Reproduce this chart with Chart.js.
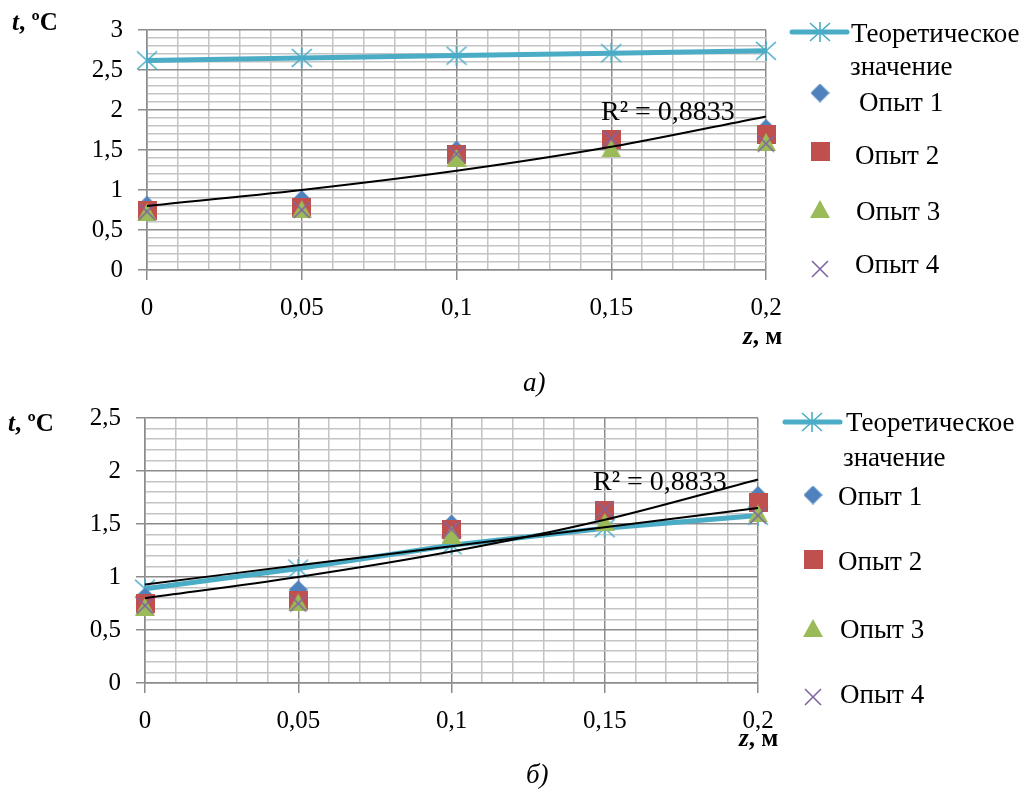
<!DOCTYPE html>
<html><head><meta charset="utf-8">
<script src="https://cdn.jsdelivr.net/npm/chart.js@4.4.0/dist/chart.umd.min.js"></script>
<style>
html,body{margin:0;padding:0;background:#fff;}
body{width:1033px;height:795px;overflow:hidden;position:relative;font-family:'Liberation Serif';}
canvas{position:absolute;left:0;top:0;}
.t{position:absolute;color:#000;white-space:nowrap;line-height:1;font-family:'Liberation Serif';}
</style></head><body>
<canvas id="c1" width="1033" height="795"></canvas>
<canvas id="c2" width="1033" height="795"></canvas>
<div class="t" style="left:12px;top:9px;font-size:25px;font-weight:bold"><i>t</i>, ºC</div>
<div class="t" style="left:8px;top:410px;font-size:25px;font-weight:bold"><i>t</i>, ºC</div>
<div class="t" style="left:743px;top:323px;font-size:25px;font-weight:bold"><i>z</i>, м</div>
<div class="t" style="left:739px;top:725px;font-size:25px;font-weight:bold"><i>z</i>, м</div>
<div class="t" style="left:523px;top:369px;font-size:27px;font-style:italic">а)</div>
<div class="t" style="left:526px;top:761px;font-size:27px;font-style:italic">б)</div>
<script>
// ---- data ----
const zValues = [0, 0.05, 0.1, 0.15, 0.2];
const xTickLabels = ['0', '0,05', '0,1', '0,15', '0,2'];
const yTickLabelsA = ['0', '0,5', '1', '1,5', '2', '2,5', '3'];
const yTickLabelsB = ['0', '0,5', '1', '1,5', '2', '2,5'];
const seriesNames = ['Теоретическое значение', 'Опыт 1', 'Опыт 2', 'Опыт 3', 'Опыт 4'];
const theoryA = [2.62, 2.65, 2.68, 2.71, 2.74];
const theoryB = [0.89, 1.08, 1.30, 1.46, 1.58];
const exp1 = [0.81, 0.88, 1.50, 1.62, 1.77];
const exp2 = [0.75, 0.78, 1.45, 1.63, 1.70];
const exp3 = [0.72, 0.76, 1.40, 1.52, 1.60];
const exp4 = [0.73, 0.75, 1.45, 1.64, 1.58];
const trendExp = [0.80, 1.00, 1.24, 1.54, 1.92];
const trendTheoryB = [0.93, 1.11, 1.29, 1.47, 1.65];
const r2Label = 'R² = 0,8833';

// ---- styles ----
const C_THEORY = '#4bacc6', C1 = '#4f81bd', C2 = '#c0504d', C3 = '#9bbb59', C4 = '#8064a2';
const FONT = '"Liberation Serif"';

function mk(w, h, draw) {
  const c = document.createElement('canvas'); c.width = w; c.height = h;
  const g = c.getContext('2d'); draw(g); return c;
}
const mAst = mk(22, 20, g => { g.strokeStyle = C_THEORY; g.lineWidth = 1.6;
  g.beginPath(); g.moveTo(1,1); g.lineTo(21,19); g.moveTo(21,1); g.lineTo(1,19); g.moveTo(11,0); g.lineTo(11,20); g.stroke(); });
const mDia = mk(19, 19, g => { g.fillStyle = C1; g.beginPath(); g.moveTo(9.5,0); g.lineTo(19,9.5); g.lineTo(9.5,19); g.lineTo(0,9.5); g.closePath(); g.fill(); });
const mSq = mk(19, 19, g => { g.fillStyle = C2; g.fillRect(0,0,19,19); });
const mTri = mk(20, 18, g => { g.fillStyle = C3; g.beginPath(); g.moveTo(10,0); g.lineTo(20,18); g.lineTo(0,18); g.closePath(); g.fill(); });
const mX = mk(18, 18, g => { g.strokeStyle = C4; g.lineWidth = 1.6; g.beginPath(); g.moveTo(1,1); g.lineTo(17,17); g.moveTo(17,1); g.lineTo(1,17); g.stroke(); });

const pts = arr => zValues.map((z, i) => ({x: z, y: arr[i]}));

function datasets(theory, trends) {
  const ds = [
    {label: seriesNames[0], data: pts(theory), showLine: true, borderColor: C_THEORY, borderWidth: 5, pointStyle: mAst, pointRadius: 10, order: 10, clip: false},
    {label: seriesNames[1], data: pts(exp1), pointStyle: mDia, pointRadius: 10, order: 9, clip: false},
    {label: seriesNames[2], data: pts(exp2), pointStyle: mSq, pointRadius: 10, order: 8, clip: false},
    {label: seriesNames[3], data: pts(exp3), pointStyle: mTri, pointRadius: 10, order: 7, clip: false},
    {label: seriesNames[4], data: pts(exp4), pointStyle: mX, pointRadius: 10, order: 6, clip: false}
  ];
  trends.forEach((t, i) => ds.push({label: 'trend' + i, data: pts(t), showLine: true, borderColor: '#000', borderWidth: 2,
    pointRadius: 0, cubicInterpolationMode: 'monotone', order: 1 + i, clip: false}));
  return ds;
}

const near = (v, step) => Math.abs(v / step - Math.round(v / step)) < 1e-6;
const MAJ = '#8c8c8c', MIN = '#c4c4c4';
const XH = 60;

function scales(yMax, yLabels, yWidth) {
  return {
    x: {
      type: 'linear', min: 0, max: 0.2,
      afterBuildTicks: s => { const t = []; for (let i = 0; i <= 20; i++) t.push({value: +(i * 0.01).toFixed(2)}); s.ticks = t; },
      afterFit: s => { s.height = XH; },
      ticks: {autoSkip: false, maxRotation: 0, padding: 13, color: '#000', font: {family: FONT, size: 25},
        callback: v => near(v, 0.05) ? xTickLabels[Math.round(v / 0.05)] : ''},
      grid: {color: c => near(c.tick.value, 0.05) ? MAJ : MIN, lineWidth: 1.5, tickLength: 10,
        tickColor: c => near(c.tick.value, 0.05) ? MAJ : 'rgba(0,0,0,0)'},
      border: {color: MAJ, width: 1.5}
    },
    y: {
      type: 'linear', min: 0, max: yMax,
      afterBuildTicks: s => { const t = []; const n = Math.round(yMax * 10); for (let i = 0; i <= n; i++) t.push({value: +(i * 0.1).toFixed(1)}); s.ticks = t; },
      afterFit: s => { s.width = yWidth; },
      ticks: {autoSkip: false, padding: 15, color: '#000', font: {family: FONT, size: 25},
        callback: v => near(v, 0.5) ? yLabels[Math.round(v / 0.5)] : ''},
      grid: {color: c => near(c.tick.value, 0.5) ? MAJ : MIN, lineWidth: 1.5, tickLength: 9,
        tickColor: c => near(c.tick.value, 0.5) ? MAJ : 'rgba(0,0,0,0)'},
      border: {color: MAJ, width: 1.5}
    }
  };
}

const legendPlugin = {
  id: 'customLegend',
  afterDraw(chart, args, o) {
    const ctx = chart.ctx; ctx.save();
    const dsets = chart.data.datasets;
    const d0 = dsets[0];
    ctx.strokeStyle = d0.borderColor; ctx.lineWidth = d0.borderWidth; ctx.lineCap = 'round';
    ctx.beginPath(); ctx.moveTo(o.line[0], o.line[2]); ctx.lineTo(o.line[1], o.line[2]); ctx.stroke();
    o.items.forEach(it => {
      const img = dsets[it.ds].pointStyle;
      ctx.drawImage(img, it.mx - img.width / 2, it.my - img.height / 2);
    });
    ctx.fillStyle = '#000'; ctx.font = '27px "Liberation Serif"'; ctx.textBaseline = 'alphabetic'; ctx.textAlign = 'left';
    o.texts.forEach(t => ctx.fillText(t[0], t[1], t[2]));
    ctx.font = '28px "Liberation Serif"';
    ctx.fillText(r2Label, o.r2[0], o.r2[1]);
    ctx.restore();
  }
};

const nameParts = seriesNames[0].split(' ');
Chart.defaults.font.family = FONT;

new Chart(document.getElementById('c1'), {
  type: 'scatter',
  data: {datasets: datasets(theoryA, [trendExp])},
  options: {
    responsive: false, animation: false, events: [],
    layout: {padding: {left: 0, top: 19, right: 267, bottom: 795 - 270 - XH}},
    scales: scales(3, yTickLabelsA, 147),
    plugins: {legend: {display: false}, tooltip: {enabled: false},
      customLegend: {
        line: [792, 847, 32],
        items: [{ds: 0, mx: 820, my: 32}, {ds: 1, mx: 820, my: 93}, {ds: 2, mx: 820, my: 151}, {ds: 3, mx: 820, my: 209}, {ds: 4, mx: 820, my: 269}],
        texts: [[nameParts[0], 851, 42], [nameParts[1], 850, 75], [seriesNames[1], 859, 111], [seriesNames[2], 855, 164], [seriesNames[3], 856, 220], [seriesNames[4], 855, 273]],
        r2: [601, 120]
      }}
  },
  plugins: [legendPlugin]
});

new Chart(document.getElementById('c2'), {
  type: 'scatter',
  data: {datasets: datasets(theoryB, [trendExp, trendTheoryB])},
  options: {
    responsive: false, animation: false, events: [],
    layout: {padding: {left: 0, top: 418, right: 275, bottom: 795 - 683 - XH}},
    scales: scales(2.5, yTickLabelsB, 145),
    plugins: {legend: {display: false}, tooltip: {enabled: false},
      customLegend: {
        line: [785, 840, 422],
        items: [{ds: 0, mx: 812, my: 422}, {ds: 1, mx: 813, my: 495}, {ds: 2, mx: 813, my: 559}, {ds: 3, mx: 813, my: 628}, {ds: 4, mx: 813, my: 697}],
        texts: [[nameParts[0], 846, 431], [nameParts[1], 843, 466], [seriesNames[1], 838, 505], [seriesNames[2], 838, 570], [seriesNames[3], 840, 638], [seriesNames[4], 840, 703]],
        r2: [593, 490]
      }}
  },
  plugins: [legendPlugin]
});
</script>
</body></html>
